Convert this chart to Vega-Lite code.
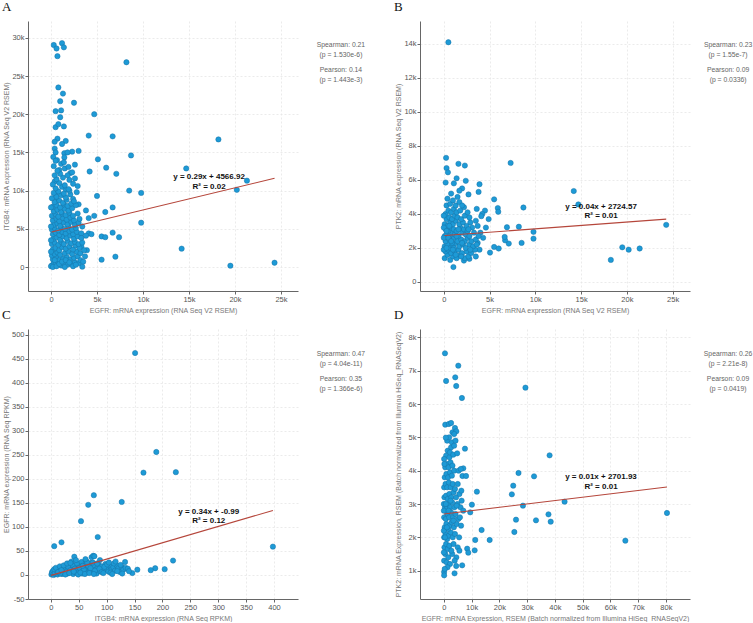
{
"$schema": "https://vega.github.io/schema/vega-lite/v6.json",
"padding": {"left": 2, "top": 1, "right": 20, "bottom": 0},
"background": "white",
"columns": 2,
"spacing": {"row": -5, "column": 27},
"config": {
  "view": {"stroke": null},
  "font": "Liberation Sans",
  "axis": {"domainColor": "#666", "tickColor": "#666", "tickSize": 3, "tickCount": 30, "labelPadding": 1, "labelFontSize": 7.5, "labelColor": "#555", "labelOverlap": false, "labelFlush": false, "titleFontSize": 7, "titleColor": "#777", "titleFontWeight": "normal", "gridColor": "#e6e6e6", "gridDash": [2, 2], "gridWidth": 0.8},
  "axisY": {"minExtent": 14, "maxExtent": 14, "titlePadding": 5},
  "axisX": {"titlePadding": 4},
  "title": {"font": "Liberation Serif", "fontSize": 13, "fontWeight": "normal", "anchor": "start", "frame": "bounds", "offset": 7, "color": "#111"}
},
"datasets": {
"A": [{"x":0.3,"y":29.06},{"x":0.6,"y":28.6},{"x":1.2,"y":29.3},{"x":1.4,"y":28.75},{"x":0.7,"y":27.6},{"x":8.2,"y":26.8},{"x":0.8,"y":23.5},{"x":1.3,"y":22.7},{"x":1.0,"y":21.7},{"x":2.5,"y":21.5},{"x":0.5,"y":20.4},{"x":1.1,"y":20.5},{"x":4.7,"y":20.0},{"x":1.0,"y":19.6},{"x":0.5,"y":18.3},{"x":0.8,"y":18.7},{"x":1.4,"y":18.4},{"x":4.1,"y":17.2},{"x":6.7,"y":17.1},{"x":18.2,"y":16.7},{"x":0.7,"y":16.8},{"x":0.4,"y":16.4},{"x":1.6,"y":16.5},{"x":1.2,"y":16.1},{"x":0.4,"y":15.5},{"x":0.5,"y":15.0},{"x":2.3,"y":15.1},{"x":3.0,"y":15.2},{"x":8.7,"y":14.6},{"x":5.1,"y":14.1},{"x":0.25,"y":14.4},{"x":0.65,"y":14.0},{"x":1.45,"y":14.9},{"x":1.8,"y":15.0},{"x":1.45,"y":14.35},{"x":14.7,"y":12.9},{"x":6.0,"y":13.0},{"x":7.1,"y":12.2},{"x":2.1,"y":12.3},{"x":4.2,"y":12.5},{"x":21.3,"y":11.3},{"x":20.2,"y":10.1},{"x":0.9,"y":12.7},{"x":0.4,"y":11.2},{"x":2.6,"y":11.6},{"x":2.9,"y":10.6},{"x":8.5,"y":10.0},{"x":9.8,"y":9.7},{"x":5.0,"y":9.3},{"x":1.6,"y":10.1},{"x":0.5,"y":9.6},{"x":2.4,"y":8.9},{"x":3.0,"y":8.2},{"x":0.65,"y":8.8},{"x":6.7,"y":7.8},{"x":5.9,"y":7.2},{"x":3.8,"y":7.4},{"x":4.7,"y":6.7},{"x":4.1,"y":6.4},{"x":9.8,"y":5.8},{"x":6.7,"y":4.5},{"x":5.5,"y":4.0},{"x":5.9,"y":3.9},{"x":7.4,"y":3.9},{"x":4.1,"y":4.4},{"x":4.4,"y":4.3},{"x":3.8,"y":4.1},{"x":14.2,"y":2.4},{"x":7.0,"y":1.35},{"x":5.5,"y":0.96},{"x":19.5,"y":0.17},{"x":3.4,"y":0.04},{"x":3.7,"y":1.4},{"x":3.9,"y":2.2},{"x":3.3,"y":2.7},{"x":24.3,"y":0.56},
{"x":0.1,"y":0.2},{"x":0.3,"y":0.5},{"x":0.5,"y":0.3},{"x":0.8,"y":0.6},{"x":1.1,"y":0.2},{"x":1.4,"y":0.5},{"x":1.8,"y":0.3},{"x":2.2,"y":0.4},{"x":2.6,"y":0.6},{"x":3.0,"y":0.5},{"x":0.2,"y":1.0},{"x":0.6,"y":1.2},{"x":0.9,"y":0.9},{"x":1.3,"y":1.1},{"x":1.7,"y":1.3},{"x":2.1,"y":1.0},{"x":2.5,"y":1.2},{"x":2.9,"y":1.4},{"x":0.1,"y":1.5},{"x":0.4,"y":1.7},{"x":0.7,"y":1.9},{"x":1.0,"y":1.6},{"x":1.5,"y":1.8},{"x":1.9,"y":2.0},{"x":2.3,"y":1.7},{"x":2.8,"y":2.0},{"x":3.2,"y":1.8},{"x":0.2,"y":2.3},{"x":0.5,"y":2.5},{"x":0.9,"y":2.2},{"x":1.2,"y":2.6},{"x":1.6,"y":2.4},{"x":2.0,"y":2.7},{"x":2.4,"y":2.3},{"x":2.7,"y":2.8},{"x":3.1,"y":2.5},{"x":0.1,"y":3.0},{"x":0.4,"y":3.2},{"x":0.8,"y":2.9},{"x":1.1,"y":3.3},{"x":1.4,"y":3.0},{"x":1.8,"y":3.4},{"x":2.2,"y":3.1},{"x":2.6,"y":3.3},{"x":3.0,"y":3.0},{"x":3.4,"y":3.2},{"x":0.3,"y":3.7},{"x":0.6,"y":3.9},{"x":1.0,"y":3.6},{"x":1.3,"y":4.0},{"x":1.7,"y":3.8},{"x":2.1,"y":4.1},{"x":2.5,"y":3.7},{"x":2.9,"y":4.0},{"x":0.2,"y":4.3},{"x":0.5,"y":4.5},{"x":0.9,"y":4.2},{"x":1.2,"y":4.6},{"x":1.6,"y":4.4},{"x":2.0,"y":4.7},{"x":2.4,"y":4.3},{"x":2.8,"y":4.6},{"x":3.3,"y":4.4},{"x":0.1,"y":4.9},{"x":0.4,"y":5.1},{"x":0.8,"y":4.8},{"x":1.1,"y":5.2},{"x":1.5,"y":5.0},{"x":1.9,"y":5.3},{"x":2.3,"y":4.9},{"x":2.7,"y":5.1},{"x":0.3,"y":5.5},{"x":0.7,"y":5.7},{"x":1.0,"y":5.4},{"x":1.4,"y":5.8},{"x":1.8,"y":5.6},{"x":2.2,"y":5.9},{"x":2.6,"y":5.5},{"x":3.0,"y":5.8},{"x":0.2,"y":6.1},{"x":0.6,"y":6.3},{"x":0.9,"y":6.0},{"x":1.3,"y":6.4},{"x":1.7,"y":6.2},{"x":2.1,"y":6.5},{"x":2.5,"y":6.1},{"x":0.1,"y":6.7},{"x":0.5,"y":6.9},{"x":0.8,"y":6.6},{"x":1.2,"y":7.0},{"x":1.6,"y":6.8},{"x":2.0,"y":7.1},{"x":2.4,"y":6.7},{"x":2.9,"y":7.0},{"x":0.3,"y":7.3},{"x":0.7,"y":7.5},{"x":1.1,"y":7.2},{"x":1.5,"y":7.6},{"x":1.9,"y":7.4},{"x":2.3,"y":7.7},{"x":0.2,"y":7.9},{"x":0.6,"y":8.1},{"x":1.0,"y":7.8},{"x":1.4,"y":8.2},{"x":1.8,"y":8.0},{"x":2.2,"y":8.3},{"x":2.7,"y":8.1},{"x":0.4,"y":8.5},{"x":0.9,"y":8.7},{"x":1.3,"y":8.4},{"x":1.7,"y":8.8},{"x":2.5,"y":8.6},{"x":0.1,"y":9.0},{"x":0.6,"y":9.2},{"x":1.1,"y":9.4},{"x":1.6,"y":9.1},{"x":2.1,"y":9.5},{"x":0.3,"y":9.7},{"x":0.8,"y":9.9},{"x":1.4,"y":9.6},{"x":2.0,"y":10.0},{"x":2.8,"y":9.8},{"x":0.5,"y":10.3},{"x":1.2,"y":10.5},{"x":1.9,"y":10.2},{"x":0.2,"y":10.8},{"x":0.9,"y":11.0},{"x":1.5,"y":10.7},{"x":2.4,"y":10.9},{"x":0.6,"y":11.5},{"x":1.3,"y":11.7},{"x":2.0,"y":11.4},{"x":0.4,"y":12.0},{"x":1.0,"y":12.2},{"x":1.8,"y":12.0},{"x":0.7,"y":12.6},{"x":1.5,"y":12.9},{"x":2.3,"y":12.4},{"x":0.3,"y":13.2},{"x":1.1,"y":13.5},{"x":1.9,"y":13.1},{"x":0.5,"y":13.9},{"x":1.4,"y":13.7},{"x":2.6,"y":13.4},{"x":0.0,"y":0.1},{"x":0.2,"y":0.0},{"x":0.4,"y":0.9},{"x":0.6,"y":0.1},{"x":0.9,"y":0.4},{"x":1.2,"y":0.7},{"x":1.5,"y":0.0},{"x":1.6,"y":0.9},{"x":2.0,"y":0.6},{"x":2.4,"y":0.1},{"x":2.7,"y":0.3},{"x":3.2,"y":0.9},{"x":3.5,"y":0.7},{"x":0.0,"y":2.0},{"x":0.0,"y":3.5},{"x":0.0,"y":5.3},{"x":0.0,"y":7.8},{"x":3.6,"y":2.2},{"x":3.3,"y":3.8},{"x":3.1,"y":6.3},{"x":3.4,"y":5.3}],
"B": [{"x":0.5,"y":14.1},{"x":0.25,"y":7.3},{"x":0.3,"y":6.7},{"x":0.45,"y":6.45},{"x":1.6,"y":6.95},{"x":2.3,"y":6.85},{"x":7.3,"y":7.0},{"x":0.2,"y":5.85},{"x":1.1,"y":5.8},{"x":1.4,"y":6.1},{"x":2.4,"y":5.95},{"x":3.9,"y":5.75},{"x":2.7,"y":5.15},{"x":0.8,"y":5.2},{"x":3.8,"y":5.3},{"x":2.0,"y":5.5},{"x":1.7,"y":5.37},{"x":5.5,"y":4.86},{"x":5.9,"y":4.35},{"x":5.95,"y":4.13},{"x":8.7,"y":4.38},{"x":14.2,"y":5.35},{"x":14.7,"y":4.56},{"x":24.3,"y":3.36},{"x":18.25,"y":1.3},{"x":19.5,"y":2.04},{"x":20.2,"y":1.9},{"x":21.4,"y":1.97},{"x":9.8,"y":2.95},{"x":9.8,"y":2.55},{"x":8.5,"y":2.3},{"x":8.2,"y":3.25},{"x":6.9,"y":3.22},{"x":7.1,"y":2.26},{"x":6.7,"y":2.45},{"x":6.65,"y":2.65},{"x":5.5,"y":2.06},{"x":6.0,"y":1.97},{"x":5.05,"y":1.73},{"x":1.05,"y":0.88},{"x":2.2,"y":1.26},{"x":2.8,"y":1.36},{"x":4.5,"y":4.2},{"x":4.2,"y":4.0},{"x":3.6,"y":4.3},{"x":4.9,"y":3.7},{"x":4.6,"y":3.2},{"x":4.0,"y":2.9},{"x":3.7,"y":2.3},{"x":3.9,"y":1.9},{"x":3.5,"y":3.6},{"x":4.3,"y":2.6},{"x":4.1,"y":3.87},
{"x":0.1,"y":1.4},{"x":0.4,"y":1.6},{"x":0.7,"y":1.3},{"x":1.0,"y":1.5},{"x":1.4,"y":1.4},{"x":1.8,"y":1.6},{"x":2.3,"y":1.4},{"x":2.7,"y":1.5},{"x":0.2,"y":1.8},{"x":0.5,"y":1.9},{"x":0.8,"y":1.7},{"x":1.2,"y":1.8},{"x":1.6,"y":1.9},{"x":2.0,"y":1.7},{"x":2.5,"y":1.8},{"x":3.0,"y":1.7},{"x":3.4,"y":1.9},{"x":0.1,"y":2.1},{"x":0.4,"y":2.2},{"x":0.7,"y":2.0},{"x":1.0,"y":2.1},{"x":1.3,"y":2.3},{"x":1.7,"y":2.1},{"x":2.1,"y":2.2},{"x":2.4,"y":2.0},{"x":2.8,"y":2.2},{"x":3.2,"y":2.1},{"x":0.2,"y":2.4},{"x":0.6,"y":2.5},{"x":0.9,"y":2.3},{"x":1.1,"y":2.6},{"x":1.5,"y":2.4},{"x":1.9,"y":2.5},{"x":2.3,"y":2.4},{"x":2.6,"y":2.6},{"x":3.0,"y":2.4},{"x":3.5,"y":2.5},{"x":0.1,"y":2.7},{"x":0.3,"y":2.8},{"x":0.6,"y":2.7},{"x":0.9,"y":2.9},{"x":1.2,"y":2.8},{"x":1.6,"y":2.7},{"x":2.0,"y":2.9},{"x":2.4,"y":2.8},{"x":2.8,"y":2.7},{"x":3.3,"y":2.9},{"x":0.2,"y":3.1},{"x":0.5,"y":3.0},{"x":0.8,"y":3.2},{"x":1.1,"y":3.1},{"x":1.4,"y":3.0},{"x":1.8,"y":3.2},{"x":2.2,"y":3.1},{"x":2.6,"y":3.0},{"x":3.1,"y":3.2},{"x":0.1,"y":3.4},{"x":0.4,"y":3.3},{"x":0.7,"y":3.5},{"x":1.0,"y":3.4},{"x":1.3,"y":3.6},{"x":1.7,"y":3.4},{"x":2.1,"y":3.5},{"x":2.5,"y":3.3},{"x":2.9,"y":3.5},{"x":0.3,"y":3.7},{"x":0.6,"y":3.8},{"x":0.9,"y":3.7},{"x":1.2,"y":3.9},{"x":1.5,"y":3.8},{"x":1.9,"y":3.7},{"x":2.3,"y":3.9},{"x":2.8,"y":3.8},{"x":0.2,"y":4.0},{"x":0.5,"y":4.2},{"x":0.8,"y":4.1},{"x":1.1,"y":4.3},{"x":1.4,"y":4.1},{"x":1.8,"y":4.2},{"x":2.2,"y":4.4},{"x":2.6,"y":4.1},{"x":0.3,"y":4.5},{"x":0.7,"y":4.6},{"x":1.0,"y":4.8},{"x":1.3,"y":4.5},{"x":1.7,"y":4.7},{"x":2.0,"y":4.5},{"x":0.4,"y":4.9},{"x":1.5,"y":5.0},{"x":0.0,"y":1.9},{"x":0.0,"y":2.6},{"x":0.0,"y":3.2},{"x":0.0,"y":3.9},{"x":0.3,"y":2.0},{"x":0.5,"y":2.6},{"x":0.8,"y":2.4},{"x":1.1,"y":2.0},{"x":1.4,"y":2.7},{"x":0.6,"y":3.3},{"x":1.6,"y":3.1},{"x":1.0,"y":1.9},{"x":2.0,"y":2.3},{"x":0.3,"y":3.0},{"x":1.9,"y":1.5},{"x":2.9,"y":1.9},{"x":3.6,"y":2.2},{"x":3.8,"y":2.7},{"x":3.7,"y":3.3},{"x":3.5,"y":1.5},{"x":1.3,"y":1.6},{"x":2.7,"y":3.1}],
"C": [{"x":151,"y":462},{"x":189,"y":256},{"x":166,"y":213},{"x":224,"y":214},{"x":77,"y":166},{"x":67,"y":146},{"x":127,"y":152},{"x":54,"y":112},{"x":84,"y":79},{"x":6,"y":60},{"x":19,"y":68},{"x":42,"y":38},{"x":219,"y":30},{"x":187,"y":14},{"x":179,"y":10},{"x":204,"y":12},{"x":155,"y":11},{"x":146,"y":4},{"x":398,"y":59},
{"x":1,"y":1},{"x":3,"y":3},{"x":5,"y":0},{"x":8,"y":2},{"x":10,"y":5},{"x":12,"y":1},{"x":15,"y":4},{"x":18,"y":7},{"x":20,"y":2},{"x":22,"y":9},{"x":25,"y":5},{"x":27,"y":12},{"x":30,"y":3},{"x":32,"y":8},{"x":34,"y":15},{"x":36,"y":6},{"x":38,"y":11},{"x":40,"y":2},{"x":42,"y":18},{"x":44,"y":9},{"x":46,"y":4},{"x":48,"y":13},{"x":50,"y":7},{"x":52,"y":20},{"x":54,"y":10},{"x":56,"y":3},{"x":58,"y":15},{"x":60,"y":8},{"x":62,"y":22},{"x":64,"y":12},{"x":66,"y":5},{"x":68,"y":17},{"x":70,"y":9},{"x":72,"y":25},{"x":74,"y":14},{"x":76,"y":6},{"x":78,"y":19},{"x":80,"y":11},{"x":82,"y":3},{"x":84,"y":16},{"x":86,"y":21},{"x":88,"y":8},{"x":90,"y":13},{"x":92,"y":18},{"x":95,"y":10},{"x":98,"y":23},{"x":100,"y":15},{"x":103,"y":7},{"x":106,"y":19},{"x":109,"y":12},{"x":112,"y":16},{"x":115,"y":9},{"x":118,"y":20},{"x":121,"y":14},{"x":124,"y":6},{"x":127,"y":17},{"x":130,"y":11},{"x":134,"y":15},{"x":138,"y":13},{"x":2,"y":6},{"x":4,"y":9},{"x":7,"y":4},{"x":11,"y":8},{"x":14,"y":11},{"x":17,"y":3},{"x":21,"y":14},{"x":24,"y":10},{"x":28,"y":7},{"x":31,"y":17},{"x":35,"y":10},{"x":39,"y":21},{"x":43,"y":13},{"x":47,"y":24},{"x":51,"y":15},{"x":55,"y":27},{"x":59,"y":11},{"x":63,"y":30},{"x":67,"y":19},{"x":71,"y":14},{"x":75,"y":26},{"x":79,"y":9},{"x":83,"y":24},{"x":87,"y":13},{"x":91,"y":6},{"x":96,"y":17},{"x":101,"y":22},{"x":107,"y":5},{"x":113,"y":24},{"x":119,"y":8},{"x":125,"y":21},{"x":6,"y":12},{"x":9,"y":15},{"x":13,"y":6},{"x":16,"y":18},{"x":19,"y":10},{"x":23,"y":20},{"x":26,"y":1},{"x":29,"y":24},{"x":33,"y":4},{"x":37,"y":28},{"x":41,"y":7},{"x":45,"y":31},{"x":49,"y":1},{"x":53,"y":5},{"x":57,"y":19},{"x":61,"y":2},{"x":65,"y":26},{"x":69,"y":4},{"x":73,"y":37},{"x":77,"y":2},{"x":76,"y":40},{"x":62,"y":33},{"x":35,"y":25},{"x":88,"y":31},{"x":133,"y":27},{"x":78,"y":39},{"x":94,"y":4},{"x":110,"y":2},{"x":140,"y":8},{"x":128,"y":3},{"x":116,"y":28},{"x":104,"y":26}],
"D": [{"x":0.4,"y":7.52},{"x":5.2,"y":7.15},{"x":0.8,"y":6.69},{"x":4.1,"y":6.8},{"x":4.45,"y":6.54},{"x":6.5,"y":6.18},{"x":29.4,"y":6.49},{"x":7.6,"y":4.66},{"x":38.1,"y":4.46},{"x":26.9,"y":3.93},{"x":32.5,"y":3.83},{"x":25.0,"y":3.55},{"x":24.5,"y":3.29},{"x":11.9,"y":3.37},{"x":10.1,"y":2.98},{"x":28.5,"y":2.95},{"x":43.5,"y":3.07},{"x":26.0,"y":2.53},{"x":33.2,"y":2.51},{"x":37.7,"y":2.69},{"x":38.5,"y":2.47},{"x":25.4,"y":2.16},{"x":13.6,"y":2.22},{"x":16.5,"y":1.92},{"x":11.3,"y":1.92},{"x":11.1,"y":1.61},{"x":9.5,"y":2.75},{"x":8.4,"y":1.66},{"x":8.8,"y":1.54},{"x":6.6,"y":1.16},{"x":4.45,"y":1.14},{"x":3.85,"y":0.92},{"x":0.1,"y":0.96},{"x":0.1,"y":0.86},{"x":65.4,"y":1.9},{"x":80.4,"y":2.73},{"x":6.7,"y":3.84},{"x":7.0,"y":4.07},{"x":8.0,"y":3.84},
{"x":0.1,"y":1.3},{"x":0.5,"y":1.5},{"x":1.0,"y":1.25},{"x":1.6,"y":1.4},{"x":2.2,"y":1.2},{"x":3.0,"y":1.5},{"x":4.5,"y":1.4},{"x":0.2,"y":1.7},{"x":0.8,"y":1.8},{"x":1.4,"y":1.65},{"x":2.0,"y":1.75},{"x":2.7,"y":1.6},{"x":3.5,"y":1.8},{"x":5.0,"y":1.7},{"x":0.1,"y":2.0},{"x":0.6,"y":2.1},{"x":1.2,"y":1.95},{"x":1.8,"y":2.05},{"x":2.5,"y":2.15},{"x":3.2,"y":2.0},{"x":4.0,"y":2.1},{"x":5.5,"y":2.0},{"x":0.3,"y":2.3},{"x":0.9,"y":2.4},{"x":1.5,"y":2.25},{"x":2.1,"y":2.35},{"x":2.8,"y":2.45},{"x":3.6,"y":2.3},{"x":4.6,"y":2.4},{"x":6.2,"y":2.35},{"x":0.1,"y":2.6},{"x":0.7,"y":2.55},{"x":1.3,"y":2.7},{"x":1.9,"y":2.6},{"x":2.6,"y":2.75},{"x":3.3,"y":2.6},{"x":4.2,"y":2.7},{"x":5.2,"y":2.55},{"x":0.4,"y":2.9},{"x":1.0,"y":2.85},{"x":1.6,"y":3.0},{"x":2.3,"y":2.9},{"x":3.0,"y":3.05},{"x":3.8,"y":2.9},{"x":4.9,"y":3.0},{"x":6.0,"y":2.9},{"x":0.2,"y":3.2},{"x":0.8,"y":3.25},{"x":1.4,"y":3.15},{"x":2.0,"y":3.3},{"x":2.7,"y":3.2},{"x":3.5,"y":3.35},{"x":4.4,"y":3.2},{"x":5.6,"y":3.3},{"x":0.1,"y":3.5},{"x":0.6,"y":3.6},{"x":1.2,"y":3.5},{"x":1.8,"y":3.65},{"x":2.5,"y":3.5},{"x":3.2,"y":3.6},{"x":4.0,"y":3.45},{"x":0.3,"y":3.8},{"x":0.9,"y":3.9},{"x":1.5,"y":3.8},{"x":2.2,"y":3.95},{"x":2.9,"y":3.85},{"x":3.7,"y":4.0},{"x":0.5,"y":4.1},{"x":1.1,"y":4.2},{"x":1.7,"y":4.1},{"x":2.4,"y":4.25},{"x":3.1,"y":4.15},{"x":0.8,"y":4.45},{"x":1.4,"y":4.6},{"x":2.0,"y":4.4},{"x":2.6,"y":4.7},{"x":1.2,"y":4.9},{"x":1.9,"y":5.0},{"x":0.5,"y":5.38},{"x":1.8,"y":5.4},{"x":2.6,"y":5.43},{"x":3.1,"y":5.15},{"x":4.0,"y":5.28},{"x":4.5,"y":5.18},{"x":3.7,"y":5.1},{"x":0.7,"y":4.99},{"x":2.2,"y":4.55},{"x":3.4,"y":4.48},{"x":4.8,"y":4.52},{"x":0.1,"y":4.35},{"x":0.2,"y":4.2},{"x":2.9,"y":4.85},{"x":3.7,"y":4.75},{"x":4.2,"y":4.9},{"x":0.0,"y":2.8},{"x":0.0,"y":3.0},{"x":0.0,"y":2.2},{"x":0.0,"y":1.55},{"x":0.4,"y":2.0},{"x":0.7,"y":3.0},{"x":1.1,"y":2.3},{"x":1.7,"y":2.8},{"x":2.4,"y":3.1},{"x":3.4,"y":2.5},{"x":5.8,"y":2.6},{"x":6.4,"y":3.1},{"x":7.0,"y":2.8},{"x":5.0,"y":3.6},{"x":6.3,"y":3.4},{"x":5.3,"y":4.0},{"x":6.1,"y":4.05},{"x":4.6,"y":2.95},{"x":5.6,"y":1.6},{"x":3.9,"y":1.3},{"x":1.3,"y":1.1},{"x":0.3,"y":1.05}]
},
"concat": [
{
 "title": "A", "width": 270, "height": 270,
 "layer": [
  {"data": {"name": "A"}, "mark": {"type": "circle", "size": 28, "color": "#1d9ad6", "stroke": "#1673a6", "strokeWidth": 0.5, "opacity": 1},
   "encoding": {
    "x": {"field": "x", "type": "quantitative", "scale": {"domain": [-2.5, 26.85], "nice": false, "zero": false}, "axis": {"title": "EGFR: mRNA expression (RNA Seq V2 RSEM)", "values": [0,5,10,15,20,25], "tickCount": 30, "labelExpr": "datum.value === 0 ? '0' : datum.value + 'k'"}},
    "y": {"field": "y", "type": "quantitative", "scale": {"domain": [-3.14, 32.2], "nice": false, "zero": false}, "axis": {"title": "ITGB4: mRNA expression (RNA Seq V2 RSEM)", "values": [0,5,10,15,20,25,30], "tickCount": 30, "labelExpr": "datum.value === 0 ? '0' : datum.value + 'k'"}}}},
  {"data": {"values": [{"x": 0.06, "y": 4.58}, {"x": 24.3, "y": 11.61}]}, "mark": {"type": "line", "color": "#b5463b", "strokeWidth": 1.1},
   "encoding": {"x": {"field": "x", "type": "quantitative"}, "y": {"field": "y", "type": "quantitative"}}},
  {"data": {"values": [{"x": 17.18, "y": 11.78, "t": "y = 0.29x + 4566.92"}, {"x": 17.18, "y": 10.47, "t": "R² = 0.02"}]}, "mark": {"type": "text", "fontWeight": "bold", "fontSize": 8, "color": "#111"},
   "encoding": {"x": {"field": "x", "type": "quantitative"}, "y": {"field": "y", "type": "quantitative"}, "text": {"field": "t", "type": "nominal"}}},
  {"data": {"values": [{"x": 31.52, "y": 29.06, "t": "Spearman: 0.21"}, {"x": 31.52, "y": 27.75, "t": "(p = 1.530e-6)"}, {"x": 31.52, "y": 25.79, "t": "Pearson: 0.14"}, {"x": 31.52, "y": 24.48, "t": "(p = 1.443e-3)"}]}, "mark": {"type": "text", "fontSize": 6.8, "color": "#666"},
   "encoding": {"x": {"field": "x", "type": "quantitative"}, "y": {"field": "y", "type": "quantitative"}, "text": {"field": "t", "type": "nominal"}}}
 ]
},
{
 "title": "B", "width": 270, "height": 270,
 "layer": [
  {"data": {"name": "B"}, "mark": {"type": "circle", "size": 28, "color": "#1d9ad6", "stroke": "#1673a6", "strokeWidth": 0.5, "opacity": 1},
   "encoding": {
    "x": {"field": "x", "type": "quantitative", "scale": {"domain": [-2.6, 26.9], "nice": false, "zero": false}, "axis": {"title": "EGFR: mRNA expression (RNA Seq V2 RSEM)", "values": [0,5,10,15,20,25], "tickCount": 30, "labelExpr": "datum.value === 0 ? '0' : datum.value + 'k'"}},
    "y": {"field": "y", "type": "quantitative", "scale": {"domain": [-0.53, 15.35], "nice": false, "zero": false}, "axis": {"title": "PTK2: mRNA expression (RNA Seq V2 RSEM)", "values": [0,2,4,6,8,10,12,14], "tickCount": 30, "labelExpr": "datum.value === 0 ? '0' : datum.value + 'k'"}}}},
  {"data": {"values": [{"x": 0.1, "y": 2.73}, {"x": 24.3, "y": 3.70}]}, "mark": {"type": "line", "color": "#b5463b", "strokeWidth": 1.1},
   "encoding": {"x": {"field": "x", "type": "quantitative"}, "y": {"field": "y", "type": "quantitative"}}},
  {"data": {"values": [{"x": 17.18, "y": 4.43, "t": "y = 0.04x + 2724.57"}, {"x": 17.18, "y": 3.88, "t": "R² = 0.01"}]}, "mark": {"type": "text", "fontWeight": "bold", "fontSize": 8, "color": "#111"},
   "encoding": {"x": {"field": "x", "type": "quantitative"}, "y": {"field": "y", "type": "quantitative"}, "text": {"field": "t", "type": "nominal"}}},
  {"data": {"values": [{"x": 31.06, "y": 13.94, "t": "Spearman: 0.23"}, {"x": 31.06, "y": 13.35, "t": "(p = 1.55e-7)"}, {"x": 31.06, "y": 12.47, "t": "Pearson: 0.09"}, {"x": 31.06, "y": 11.88, "t": "(p = 0.0336)"}]}, "mark": {"type": "text", "fontSize": 6.8, "color": "#666"},
   "encoding": {"x": {"field": "x", "type": "quantitative"}, "y": {"field": "y", "type": "quantitative"}, "text": {"field": "t", "type": "nominal"}}}
 ]
},
{
 "title": "C", "width": 270, "height": 270,
 "layer": [
  {"data": {"name": "C"}, "mark": {"type": "circle", "size": 28, "color": "#1d9ad6", "stroke": "#1673a6", "strokeWidth": 0.5, "opacity": 1},
   "encoding": {
    "x": {"field": "x", "type": "quantitative", "scale": {"domain": [-41, 443], "nice": false, "zero": false}, "axis": {"title": "ITGB4: mRNA expression (RNA Seq RPKM)", "values": [0,50,100,150,200,250,300,350,400], "tickCount": 30, "format": "d"}},
    "y": {"field": "y", "type": "quantitative", "scale": {"domain": [-50, 512], "nice": false, "zero": false}, "axis": {"title": "EGFR: mRNA expression (RNA Seq RPKM)", "values": [-50,0,50,100,150,200,250,300,350,400,450,500], "tickCount": 30, "labelExpr": "datum.value < 0 ? '-' + abs(datum.value) : '' + datum.value"}}}},
  {"data": {"values": [{"x": 0.5, "y": -0.82}, {"x": 398, "y": 134.3}]}, "mark": {"type": "line", "color": "#b5463b", "strokeWidth": 1.1},
   "encoding": {"x": {"field": "x", "type": "quantitative"}, "y": {"field": "y", "type": "quantitative"}}},
  {"data": {"values": [{"x": 283, "y": 130.5, "t": "y = 0.34x + -0.99"}, {"x": 283, "y": 112.4, "t": "R² = 0.12"}]}, "mark": {"type": "text", "fontWeight": "bold", "fontSize": 8, "color": "#111"},
   "encoding": {"x": {"field": "x", "type": "quantitative"}, "y": {"field": "y", "type": "quantitative"}, "text": {"field": "t", "type": "nominal"}}},
  {"data": {"values": [{"x": 520, "y": 460, "t": "Spearman: 0.47"}, {"x": 520, "y": 439.1, "t": "(p = 4.04e-11)"}, {"x": 520, "y": 408, "t": "Pearson: 0.35"}, {"x": 520, "y": 387, "t": "(p = 1.366e-6)"}]}, "mark": {"type": "text", "fontSize": 6.8, "color": "#666"},
   "encoding": {"x": {"field": "x", "type": "quantitative"}, "y": {"field": "y", "type": "quantitative"}, "text": {"field": "t", "type": "nominal"}}}
 ]
},
{
 "title": "D", "width": 270, "height": 270,
 "layer": [
  {"data": {"name": "D"}, "mark": {"type": "circle", "size": 28, "color": "#1d9ad6", "stroke": "#1673a6", "strokeWidth": 0.5, "opacity": 1},
   "encoding": {
    "x": {"field": "x", "type": "quantitative", "scale": {"domain": [-8.6, 88.7], "nice": false, "zero": false}, "axis": {"title": "EGFR: mRNA Expression, RSEM (Batch normalized from Illumina HiSeq_RNASeqV2)", "values": [0,10,20,30,40,50,60,70,80], "tickCount": 30, "labelExpr": "datum.value === 0 ? '0' : datum.value + 'k'"}},
    "y": {"field": "y", "type": "quantitative", "scale": {"domain": [0.15, 8.25], "nice": false, "zero": false}, "axis": {"title": "PTK2: mRNA Expression, RSEM (Batch normalized from Illumina HiSeq_RNASeqV2)", "values": [1,2,3,4,5,6,7,8], "tickCount": 30, "labelExpr": "datum.value + 'k'"}}}},
  {"data": {"values": [{"x": 0.0, "y": 2.70}, {"x": 80.4, "y": 3.51}]}, "mark": {"type": "line", "color": "#b5463b", "strokeWidth": 1.1},
   "encoding": {"x": {"field": "x", "type": "quantitative"}, "y": {"field": "y", "type": "quantitative"}}},
  {"data": {"values": [{"x": 56.63, "y": 3.80, "t": "y = 0.01x + 2701.93"}, {"x": 56.63, "y": 3.52, "t": "R² = 0.01"}]}, "mark": {"type": "text", "fontWeight": "bold", "fontSize": 8, "color": "#111"},
   "encoding": {"x": {"field": "x", "type": "quantitative"}, "y": {"field": "y", "type": "quantitative"}, "text": {"field": "t", "type": "nominal"}}},
  {"data": {"values": [{"x": 102.4, "y": 7.5, "t": "Spearman: 0.26"}, {"x": 102.4, "y": 7.2, "t": "(p = 2.21e-8)"}, {"x": 102.4, "y": 6.75, "t": "Pearson: 0.09"}, {"x": 102.4, "y": 6.45, "t": "(p = 0.0419)"}]}, "mark": {"type": "text", "fontSize": 6.8, "color": "#666"},
   "encoding": {"x": {"field": "x", "type": "quantitative"}, "y": {"field": "y", "type": "quantitative"}, "text": {"field": "t", "type": "nominal"}}}
 ]
}
]
}
